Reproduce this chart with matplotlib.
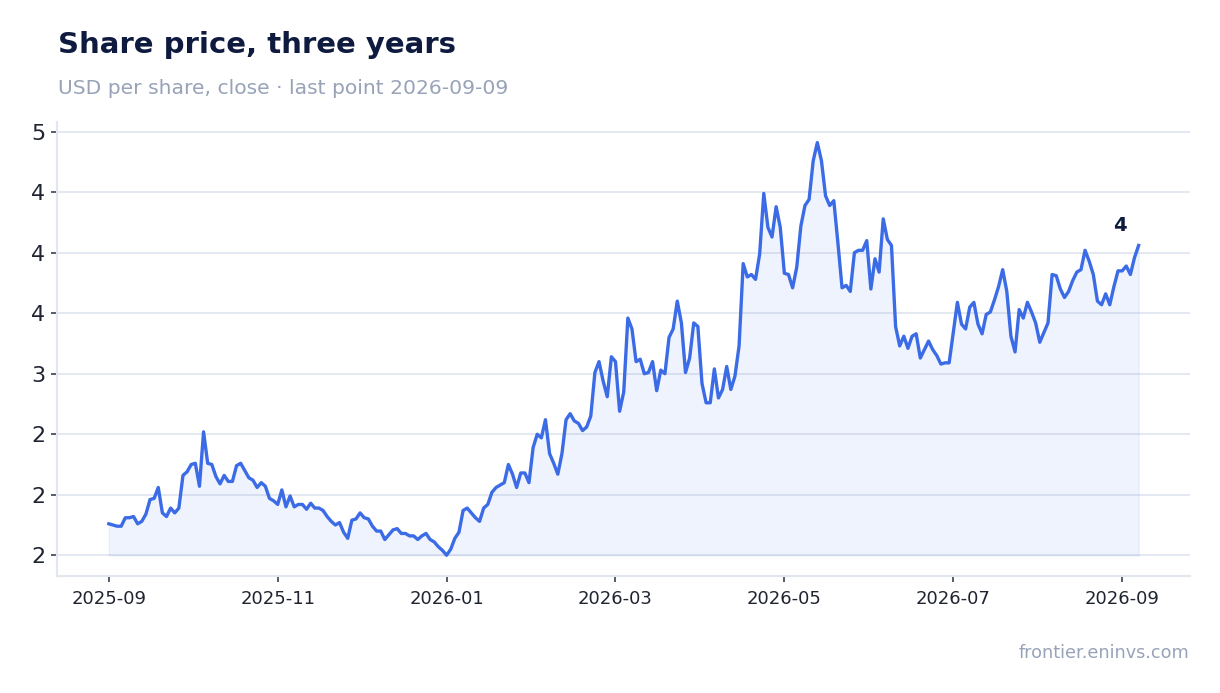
import numpy as np
import pandas as pd
import matplotlib
matplotlib.use("Agg")
import matplotlib.pyplot as plt
import matplotlib.dates as mdates
from matplotlib.ticker import MultipleLocator, StrMethodFormatter

# closing prices, ~every 1.5 days
prices_sep_oct = [
    1.76, 1.75, 1.74, 1.74, 1.81, 1.81, 1.82, 1.76, 1.78, 1.84,
    1.96, 1.97, 2.06, 1.85, 1.82, 1.89, 1.85, 1.89, 2.16, 2.19,
    2.25, 2.26, 2.07, 2.52, 2.26, 2.25, 2.15, 2.09, 2.16, 2.11,
    2.11, 2.24, 2.26, 2.20, 2.14, 2.12, 2.06, 2.10, 2.07, 1.97,
    1.95, 1.92, 2.04, 1.90, 1.99, 1.90,
]
prices_nov_dec = [
    1.92, 1.92, 1.88, 1.93, 1.89, 1.89, 1.87, 1.82, 1.78, 1.75,
    1.77, 1.69, 1.64, 1.79, 1.80, 1.85, 1.81, 1.80, 1.74, 1.70,
    1.70, 1.63, 1.67, 1.71, 1.72, 1.68, 1.68, 1.66, 1.66, 1.63,
    1.66, 1.68, 1.63, 1.61, 1.57, 1.54, 1.50, 1.55, 1.64, 1.69,
    1.87, 1.89, 1.85, 1.81, 1.78,
]
prices_jan_feb = [
    1.89, 1.92, 2.02, 2.06, 2.08, 2.10, 2.25, 2.17, 2.06, 2.18,
    2.18, 2.10, 2.39, 2.50, 2.47, 2.62, 2.34, 2.26, 2.17, 2.34,
    2.62, 2.67, 2.61, 2.59, 2.53, 2.56, 2.65, 3.01, 3.10, 2.94,
    2.81, 3.14, 3.10, 2.69, 2.85, 3.46, 3.37, 3.10, 3.12, 3.00,
    3.01, 3.10, 2.86, 3.03, 3.00, 3.30,
]
prices_mar_apr = [
    3.37, 3.60, 3.42, 3.01, 3.13, 3.42, 3.39, 2.92, 2.76, 2.76,
    3.04, 2.80, 2.87, 3.06, 2.87, 2.98, 3.23, 3.91, 3.80, 3.82,
    3.78, 3.99, 4.49, 4.21, 4.13, 4.38, 4.21, 3.83, 3.82, 3.71,
    3.88, 4.22, 4.39, 4.44, 4.76, 4.91, 4.76, 4.47, 4.39, 4.43,
    4.08, 3.71, 3.73, 3.68, 4.00, 4.02,
]
prices_may_jul = [
    4.02, 4.10, 3.70, 3.95, 3.84, 4.28, 4.11, 4.06, 3.39, 3.23,
    3.31, 3.21, 3.31, 3.33, 3.13, 3.20, 3.27, 3.20, 3.15, 3.08,
    3.09, 3.09, 3.34, 3.59, 3.41, 3.37, 3.55, 3.59, 3.41, 3.33,
    3.49, 3.51, 3.61, 3.72, 3.86, 3.68, 3.31, 3.18, 3.53, 3.46,
    3.59, 3.51, 3.42, 3.26, 3.34, 3.42,
]
prices_aug_sep = [
    3.82, 3.81, 3.70, 3.63, 3.68, 3.77, 3.84, 3.86, 4.02, 3.93,
    3.82, 3.60, 3.57, 3.66, 3.57, 3.72, 3.85, 3.85, 3.89, 3.82,
    3.96, 4.06,
]

prices = np.array(prices_sep_oct + prices_nov_dec + prices_jan_feb
                  + prices_mar_apr + prices_may_jul + prices_aug_sep)
dates = pd.date_range("2025-09-01", "2026-09-08", periods=len(prices))
# ticks in the original sit every 61 days, labelled by month
tick_dates = pd.date_range("2025-09-01", periods=7, freq="61D")

title = "Share price, three years"
subtitle = "USD per share, close \u00b7 last point 2026-09-09"
source = "frontier.eninvs.com"

line_c = "#3b6ce6"
grid_c = "#e2e6ef"
text_c = "#1f2430"
tick_c = "#4a4f5c"
navy = "#0e1b3f"
muted = "#98a3b8"

fig = plt.figure(figsize=(12.2, 6.93), dpi=100)
ax = fig.add_axes([0.047, 0.169, 0.9285, 0.655])

ax.fill_between(dates, prices, prices.min(), color=line_c, alpha=0.08, lw=1)
ax.plot(dates, prices, color=line_c, lw=2.4)

ax.yaxis.set_major_locator(MultipleLocator(0.5))
ax.yaxis.set_major_formatter(StrMethodFormatter("{x:.0f}"))
ax.set_xticks(tick_dates)
ax.xaxis.set_major_formatter(mdates.DateFormatter("%Y-%m"))

ax.grid(axis="y", color=grid_c, lw=1.3)
ax.set_axisbelow(True)
for s in ["top", "right"]:
    ax.spines[s].set_visible(False)
for s in ["left", "bottom"]:
    ax.spines[s].set_color(grid_c)
    ax.spines[s].set_linewidth(1.5)
ax.tick_params(axis="both", colors=tick_c, labelcolor=text_c, length=4.3, width=1.3)
ax.tick_params(axis="y", labelsize=16, pad=4.5)
ax.tick_params(axis="x", labelsize=13, pad=6)

ax.annotate(f"{prices[-1]:.0f}", xy=(dates[-1], prices[-1]), xytext=(-19, 20),
            textcoords="offset pixels", ha="center", va="center",
            fontsize=14, fontweight="bold", color=navy)

fig.text(0.0475, 0.9235, title, fontsize=21, fontweight="bold", color=navy, va="baseline")
fig.text(0.0475, 0.8644, subtitle, fontsize=14.6, color=muted, va="baseline")
fig.text(0.975, 0.0505, source, fontsize=12.7, color=muted, ha="right", va="baseline")

fig.savefig("out.png", dpi=100)
